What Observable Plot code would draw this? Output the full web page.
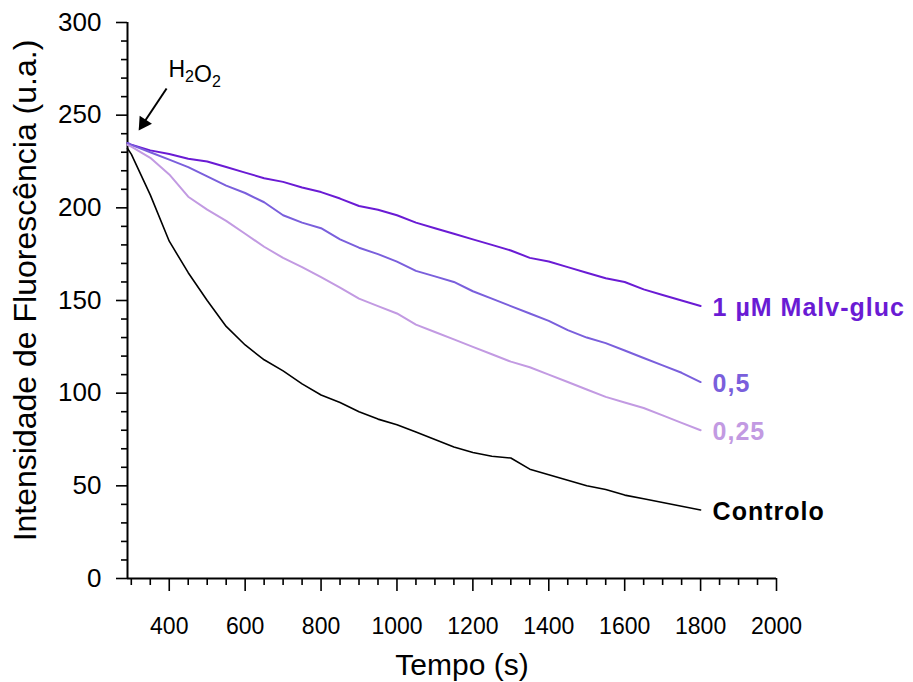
<!DOCTYPE html>
<html>
<head>
<meta charset="utf-8">
<script src="https://cdn.jsdelivr.net/npm/d3@7"></script>
<script src="https://cdn.jsdelivr.net/npm/@observablehq/plot@0.6"></script>
<style>
  html, body { margin: 0; padding: 0; background: #fff; }
  #chart { width: 913px; height: 682px; }
  .series-labels text { letter-spacing: 1px; }
</style>
</head>
<body>
<div id="chart"></div>
<script>
// ---- data ----
const time = [290,300,350,400,450,500,550,600,650,700,750,800,850,900,950,1000,1050,1100,1150,1200,1250,1300,1350,1400,1450,1500,1550,1600,1650,1700,1750,1800];
const malv1 = [235,234,231,229,226.5,225,222,219,216,214,211,208.5,205,201,199,196,192,189,186,183,180,177,173,171,168,165,162,160,156,153,150,147];
const malv05 = [235,234,230,226,222,217,212,208,203,196,192,189,183,178.5,175,171,166,163,160,155,151,147,143,139,134,130,127,123,119,115,111,106];
const malv025 = [234,233,227,218,206,199,193,186,179,173,168,162.6,157,151,147,143,137,133,129,125,121,117,114,110,106,102,98,95,92,88,84,80];
const controlo = [232,229,207,182,165,150,136,126,118,112,105,99,95,90,86,83,79,75,71,68,66,65,59,56,53,50,48,45,43,41,39,37];

const seriesNames = ["1 µM Malv-gluc", "0,5", "0,25", "Controlo"];
const seriesValues = [malv1, malv05, malv025, controlo];
const seriesColors = ["#6a1bd4", "#7a5fdc", "#c29ae2", "#000000"];
const seriesWidths = [2, 2, 2, 1.6];

const xMajorTicks = [400,600,800,1000,1200,1400,1600,1800,2000];
const xMinorTicks = d3.range(300, 2001, 50).filter(v => !xMajorTicks.includes(v));
const yMajorTicks = [0,50,100,150,200,250,300];
const yMinorTicks = d3.range(10, 300, 10).filter(v => v % 50 !== 0);

const xLabel = "Tempo (s)";
const yLabel = "Intensidade de Fluorescência (u.a.)";
const annotationText = "H2O2";
// annotation anchors (data units)
const annotationPos = {x: 398, y: 270.4};
const arrowTail = {x: 393, y: 264.4};
const arrowHead = {x: 332, y: 245.6};

// ---- build table ----
const rows = [];
seriesNames.forEach((name, i) => {
  seriesValues[i].forEach((v, j) => rows.push({series: name, t: time[j], v, w: seriesWidths[i]}));
});
const lastPoints = seriesNames.map((name, i) => ({series: name, t: time[time.length - 1], v: seriesValues[i][seriesValues[i].length - 1], color: seriesColors[i]}));

const chart = Plot.plot({
  width: 913,
  height: 682,
  marginLeft: 127,
  marginRight: 137,
  marginTop: 22,
  marginBottom: 104,
  x: {domain: [290, 2000]},
  y: {domain: [0, 300]},
  color: {domain: seriesNames, range: seriesColors},
  style: {fontFamily: "'Liberation Sans', Arial, sans-serif", background: "#fff", color: "#000", overflow: "visible"},
  marks: [
    Plot.axisX({ticks: xMajorTicks, tickSize: 13, tickPadding: 26, fontSize: 23, strokeWidth: 1.6, label: null, tickFormat: d => String(d)}),
    Plot.axisX({ticks: xMinorTicks, tickSize: 7, tickFormat: () => "", strokeWidth: 1.6, label: null}),
    Plot.axisY({ticks: yMajorTicks, tickSize: 11, tickPadding: 15, fontSize: 26, strokeWidth: 1.6, label: null, tickFormat: d => String(d)}),
    Plot.axisY({ticks: yMinorTicks, tickSize: 6, tickFormat: () => "", strokeWidth: 1.6, label: null}),
    Plot.ruleX([290], {strokeWidth: 2}),
    Plot.ruleY([0], {strokeWidth: 2}),
    ...seriesNames.map((name, i) =>
      Plot.line(rows.filter(r => r.series === name), {x: "t", y: "v", stroke: seriesColors[i], strokeWidth: seriesWidths[i]})),
    Plot.text(lastPoints, {x: "t", y: "v", text: "series", fill: "color", textAnchor: "start", dx: 12, dy: 2, fontSize: 25, fontWeight: "bold", className: "series-labels"}),
    Plot.link([arrowTail], {x1: "x", y1: "y", x2: () => arrowHead.x, y2: () => arrowHead.y, stroke: "#000", strokeWidth: 2}),
    Plot.dot([arrowHead], {x: "x", y: "y", symbol: "triangle", r: 5.5, fill: "#000", stroke: "none", rotate: 213.7}),
    Plot.text([annotationText], {x: () => annotationPos.x, y: () => annotationPos.y, textAnchor: "start", fontSize: 23, lineAnchor: "bottom", className: "h2o2"}),
    Plot.text([xLabel], {frameAnchor: "bottom", lineAnchor: "top", dy: 75, dx: 10, fontSize: 30}),
    Plot.text([yLabel], {frameAnchor: "left", textAnchor: "middle", rotate: -90, dx: -102, dy: -10, fontSize: 32})
  ]
});
document.getElementById("chart").appendChild(chart);

// render subscripts of H2O2 as real text tspans
d3.select(chart).selectAll(".h2o2 text").each(function () {
  const t = d3.select(this);
  const s = t.text();
  t.text("");
  for (const ch of s) {
    if (/\d/.test(ch)) {
      t.append("tspan").attr("font-size", 16).attr("dy", 5).text(ch);
      t.append("tspan").attr("dy", -5).text("");
    } else {
      t.append("tspan").text(ch);
    }
  }
});
</script>
</body>
</html>
